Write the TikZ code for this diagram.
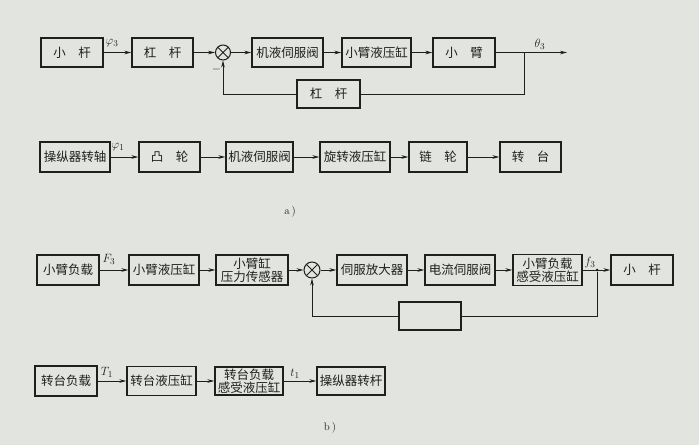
\documentclass[tikz,border=0pt]{standalone}
\usepackage{fontspec}
\newfontfamily\cjk{Noto Sans CJK SC}
\usetikzlibrary{arrows.meta}
\definecolor{paper}{RGB}{226,229,223}
\definecolor{ink}{RGB}{30,32,30}
\begin{document}
\begin{tikzpicture}[x=1pt,y=-1pt,
 blk/.style={draw=ink,line width=1.3pt,minimum height=29pt,inner sep=0pt,align=center,
   font=\cjk\fontsize{12.5}{13.5}\selectfont,text=ink},
 sumj/.style={draw=ink,circle,line width=1pt,minimum size=15pt,inner sep=0pt,
   path picture={\draw[ink,line width=0.9pt]
     (path picture bounding box.north west)--(path picture bounding box.south east)
     (path picture bounding box.north east)--(path picture bounding box.south west);}},
 conn/.style={draw=ink,line width=0.8pt},
 arr/.style={conn,-{Stealth[length=7pt,width=3.6pt]}},
 lbl/.style={font=\fontsize{12.5}{14}\selectfont,text=ink,inner sep=0pt},
 captxt/.style={font=\fontsize{11}{13}\selectfont,text=ink,inner sep=0pt}
]
\fill[paper] (0,0) rectangle (699,445);
\useasboundingbox (0,0) rectangle (699,445);

% ---- a) row 1
\node[blk,minimum width=62pt] (a1) at (72,52.5) {小\quad 杆};
\node[blk,minimum width=61pt] (a2) at (162.5,52.5) {杠\quad 杆};
\node[sumj] (s1) at (223,52.5) {};
\node[blk,minimum width=71pt] (a3) at (287.5,52.5) {机液伺服阀};
\node[blk,minimum width=69pt] (a4) at (376.5,52.5) {小臂液压缸};
\node[blk,minimum width=62pt] (a5) at (464,52.5) {小\quad 臂};
\node[blk,minimum width=63pt,minimum height=28pt] (a6) at (328.5,94) {杠\quad 杆};
\coordinate (br1) at (524,52.5);
\coordinate (out1) at (567,52.5);
\draw[arr] (a1) -- (a2);
\draw[arr] (a2) -- (s1);
\draw[arr] (s1) -- (a3);
\draw[arr] (a3) -- (a4);
\draw[arr] (a4) -- (a5);
\draw[arr] (a5) -- (out1);
\draw[conn] (br1) |- (a6.east);
\draw[arr] (a6.west) -| (s1.south);
\node[lbl] (phi3) at (112,43.5) {$\varphi_3$};
\node[lbl] (th3) at (540,44.5) {$\theta_3$};
\node[lbl] (minus1) at (216.5,69) {$-$};

% ---- a) row 2
\node[blk,minimum width=70pt,minimum height=30pt] (b1) at (75,157) {操纵器转轴};
\node[blk,minimum width=61pt,minimum height=30pt] (b2) at (169.5,157) {凸\quad 轮};
\node[blk,minimum width=67pt,minimum height=30pt] (b3) at (259.5,157) {机液伺服阀};
\node[blk,minimum width=70pt,minimum height=30pt] (b4) at (355,157) {旋转液压缸};
\node[blk,minimum width=58pt,minimum height=30pt] (b5) at (438,157) {链\quad 轮};
\node[blk,minimum width=61pt,minimum height=30pt] (b6) at (530.5,157) {转\quad 台};
\draw[arr] (b1) -- (b2);
\draw[arr] (b2) -- (b3);
\draw[arr] (b3) -- (b4);
\draw[arr] (b4) -- (b5);
\draw[arr] (b5) -- (b6);
\node[lbl] (phi1) at (118,147.5) {$\varphi_1$};
\node[captxt] (capa) at (290,212) {a\,)};

% ---- b) row 3
\node[blk,minimum width=62pt,minimum height=30pt] (c1) at (68,270) {小臂负载};
\node[blk,minimum width=70pt,minimum height=30pt] (c2) at (164,270) {小臂液压缸};
\node[blk,minimum width=72pt,minimum height=30pt] (c3) at (252,270) {小臂缸\\压力传感器};
\node[sumj,minimum size=16pt] (s2) at (312,270) {};
\node[blk,minimum width=70pt,minimum height=30pt] (c4) at (372,270) {伺服放大器};
\node[blk,minimum width=70pt,minimum height=30pt] (c5) at (460,270) {电流伺服阀};
\node[blk,minimum width=69pt,minimum height=31pt] (c6) at (547.5,270) {小臂负载\\感受液压缸};
\node[blk,minimum width=62pt,minimum height=30pt] (c7) at (642,270) {小\quad 杆};
\node[blk,minimum width=62pt,minimum height=28pt] (c8) at (430,316) {};
\node[circle,fill=ink,inner sep=0pt,minimum size=3pt] (dot) at (597,270) {};
\draw[arr] (c1) -- (c2);
\draw[arr] (c2) -- (c3);
\draw[arr] (c3) -- (s2);
\draw[arr] (s2) -- (c4);
\draw[arr] (c4) -- (c5);
\draw[arr] (c5) -- (c6);
\draw[arr] (c6) -- (c7);
\draw[conn] (dot) |- (c8.east);
\draw[arr] (c8.west) -| (s2.south);
\node[lbl] (F3) at (109,259.5) {$F_3$};
\node[lbl] (f3) at (590,262.5) {$f_3$};

% ---- b) row 4
\node[blk,minimum width=62pt,minimum height=30pt] (d1) at (66,381) {转台负载};
\node[blk,minimum width=69pt,minimum height=29pt] (d2) at (161.5,381) {转台液压缸};
\node[blk,minimum width=68pt,minimum height=28pt] (d3) at (249,381) {转台负载\\感受液压缸};
\node[blk,minimum width=68pt,minimum height=28pt] (d4) at (351,381) {操纵器转杆};
\draw[arr] (d1) -- (d2);
\draw[arr] (d2) -- (d3);
\draw[arr] (d3) -- (d4);
\node[lbl] (T1) at (107,372.5) {$T_1$};
\node[lbl] (t1) at (295,373.5) {$t_1$};
\node[captxt] (capb) at (330,428) {b\,)};
\end{tikzpicture}
\end{document}
